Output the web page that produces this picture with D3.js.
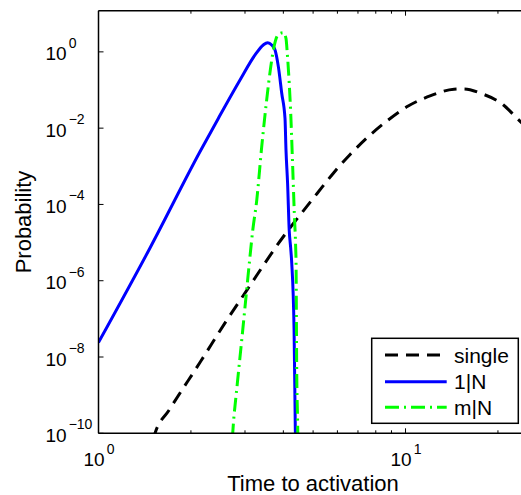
<!DOCTYPE html>
<html>
<head>
<meta charset="utf-8">
<script src="https://cdn.jsdelivr.net/npm/d3@7"></script>
<style>
  body { margin: 0; background: #fff; }
  svg { display: block; font-family: "Liberation Sans", Arial, sans-serif; }
</style>
</head>
<body>
<svg id="svg" width="521" height="495"></svg>
<script>
// values (time, probability)
const singleT = [1.45, 1.528, 1.70, 2.15, 2.60, 3.04, 4.05, 4.56, 5.16, 5.82, 6.60, 7.51, 8.73, 10.2, 12.08, 14.39, 15.5, 17.58, 20.8, 23.2, 25];
const singleP = [2e-11, 1.0e-10, 4.1e-10, 7.6e-9, 8.5e-8, 5.6e-7, 1.64e-5, 5.6e-5, 1.97e-4, 6.6e-4, 2.04e-3, 5.7e-3, 1.58e-2, 3.8e-2, 7.1e-2, 0.105, 0.107, 0.082, 0.041, 0.0174, 0.0098];

const oneT = [1, 1.47, 2.14, 2.456, 2.89, 3.235, 3.442, 3.557, 3.665, 3.758, 3.853, 3.952, 4.05, 4.08, 4.13, 4.18, 4.227, 4.26, 4.335, 4.376, 4.40];
const oneP = [2.4e-8, 7.1e-6, 2.4e-3, 0.018, 0.183, 0.83, 1.52, 1.74, 1.52, 1.12, 0.41, 0.082, 0.018, 2.7e-3, 3.5e-4, 2.1e-5, 7.1e-6, 2.9e-6, 5.1e-8, 1.2e-10, 1e-11];

const manyT = [2.70, 2.736, 2.832, 2.928, 3.023, 3.099, 3.18, 3.277, 3.40, 3.53, 3.64, 3.73, 3.853, 4.0, 4.08, 4.12, 4.18, 4.227, 4.29, 4.343, 4.388, 4.40, 4.42, 4.457, 4.47];
const manyP = [1.6e-11, 1e-10, 2.0e-9, 2.8e-8, 3.8e-7, 2.9e-6, 2.1e-5, 1.3e-4, 3.2e-3, 0.055, 0.41, 1.37, 2.89, 3.18, 2.27, 0.91, 0.15, 0.025, 9.8e-4, 5.9e-5, 7.1e-6, 2.9e-6, 6.9e-9, 1e-10, 1e-11];

const xMajor = [1, 10];
const xMinor = [2, 3, 4, 5, 6, 7, 8, 9, 20];
const yMajor = [1e-10, 1e-8, 1e-6, 1e-4, 1e-2, 1];
const yExp = ['−10', '−8', '−6', '−4', '−2', '0'];
const xExp = ['0', '1'];

const legendNames = ['single', '1|N', 'm|N'];

const svg = d3.select('#svg');

const pLeft = 98.5, pTop = 10.7, pBottom = 433.3, pRight = 527.7;
const x = d3.scaleLog().domain([1, 25]).range([pLeft, pRight]);
const y = d3.scaleLog().domain([1e-10, 12]).range([pBottom, pTop]);

svg.append('clipPath').attr('id', 'clip')
    .append('rect')
    .attr('x', pLeft).attr('y', pTop)
    .attr('width', pRight - pLeft).attr('height', pBottom - pTop);

const line = d3.line()
    .x(d => x(d[0]))
    .y(d => y(d[1]))
    .curve(d3.curveMonotoneX);

const series = [
    {t: singleT, p: singleP, color: '#000', dash: '13,8'},
    {t: oneT, p: oneP, color: '#0000ff', dash: null},
    {t: manyT, p: manyP, color: '#00ff00', dash: '14,5,2,5'}
];

const plot = svg.append('g').attr('clip-path', 'url(#clip)');
series.forEach(s => {
    plot.append('path')
        .datum(d3.zip(s.t, s.p))
        .attr('d', line)
        .attr('fill', 'none')
        .attr('stroke', s.color)
        .attr('stroke-width', 3)
        .attr('stroke-dasharray', s.dash);
});

// axes box (left, top, bottom)
const axisColor = '#000';
svg.append('line').attr('x1', pLeft).attr('x2', pLeft).attr('y1', pTop).attr('y2', pBottom)
    .attr('stroke', axisColor).attr('stroke-width', 1.5);
svg.append('line').attr('x1', pLeft).attr('x2', 521).attr('y1', pBottom).attr('y2', pBottom)
    .attr('stroke', axisColor).attr('stroke-width', 1.5);
svg.append('line').attr('x1', pLeft).attr('x2', 521).attr('y1', pTop).attr('y2', pTop)
    .attr('stroke', axisColor).attr('stroke-width', 1.5);

// ticks pointing inward
const ticks = svg.append('g').attr('stroke', axisColor).attr('stroke-width', 1);
xMajor.concat(xMinor).forEach(v => {
    const len = xMajor.includes(v) ? 5 : 3;
    ticks.append('line').attr('x1', x(v)).attr('x2', x(v)).attr('y1', pBottom).attr('y2', pBottom - len);
    ticks.append('line').attr('x1', x(v)).attr('x2', x(v)).attr('y1', pTop).attr('y2', pTop + len);
});
yMajor.forEach(v => {
    ticks.append('line').attr('x1', pLeft).attr('x2', pLeft + 5).attr('y1', y(v)).attr('y2', y(v));
});

// tick labels
xMajor.forEach((v, i) => {
    const t = svg.append('text')
        .attr('x', x(v) - 15).attr('y', 466)
        .attr('font-size', 19);
    t.append('tspan').text('10');
    t.append('tspan').attr('font-size', 14).attr('dx', 2).attr('dy', -12.5).text(xExp[i]);
});
yMajor.forEach((v, i) => {
    const t = svg.append('text')
        .attr('x', 45.5).attr('y', y(v) + 8.5)
        .attr('font-size', 19);
    t.append('tspan').text('10');
    t.append('tspan').attr('font-size', 14).attr('dx', 2).attr('dy', -12.5).text(yExp[i]);
});

// axis titles
svg.append('text')
    .attr('x', 313).attr('y', 491)
    .attr('text-anchor', 'middle')
    .attr('font-size', 22)
    .text('Time to activation');
svg.append('text')
    .attr('transform', 'translate(31,222) rotate(-90)')
    .attr('text-anchor', 'middle')
    .attr('font-size', 22)
    .text('Probability');

// legend
const legend = svg.append('g');
legend.append('rect')
    .attr('x', 371.7).attr('y', 338.3)
    .attr('width', 146.6).attr('height', 85)
    .attr('fill', '#fff')
    .attr('stroke', '#000')
    .attr('stroke-width', 1.5);
const rowY = [355, 381.7, 407.3];
series.forEach((s, i) => {
    legend.append('line')
        .attr('x1', 385).attr('x2', 446.7)
        .attr('y1', rowY[i]).attr('y2', rowY[i])
        .attr('stroke', s.color)
        .attr('stroke-width', 3)
        .attr('stroke-dasharray', s.dash);
    legend.append('text')
        .attr('x', 454).attr('y', rowY[i] + 7.5)
        .attr('font-size', 21)
        .text(legendNames[i]);
});
</script>
</body>
</html>
